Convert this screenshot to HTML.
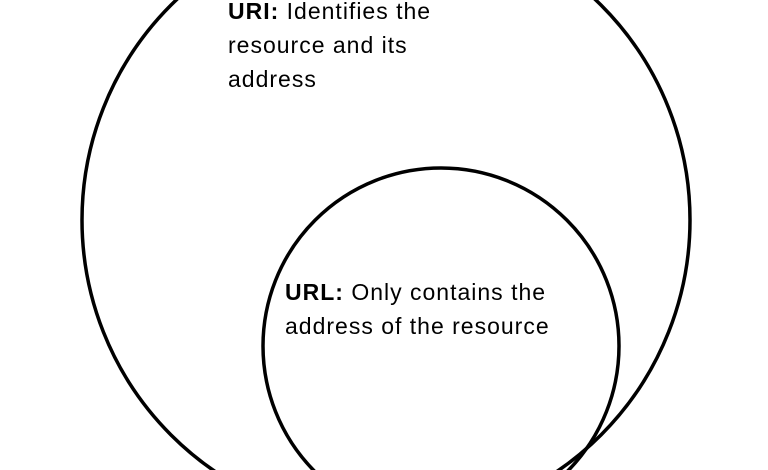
<!DOCTYPE html>
<html><head><meta charset="utf-8"><style>
html,body{margin:0;padding:0;background:#fff;width:768px;height:470px;overflow:hidden}
svg{display:block}
text{font-family:"Liberation Sans",sans-serif;font-size:23px;letter-spacing:1px;fill:#000}
</style></head><body>
<svg width="768" height="470" viewBox="0 0 768 470">
<circle cx="386" cy="220" r="304" fill="none" stroke="#000" stroke-width="3.5"/>
<circle cx="441" cy="346" r="178" fill="none" stroke="#000" stroke-width="3.5"/>
<text x="228" y="19"><tspan font-weight="bold">URI:</tspan> Identifies the</text>
<text x="228" y="53">resource and its</text>
<text x="228" y="87">address</text>
<text x="285" y="300"><tspan font-weight="bold">URL:</tspan> Only contains the</text>
<text x="285" y="334">address of the resource</text>
</svg>
</body></html>
